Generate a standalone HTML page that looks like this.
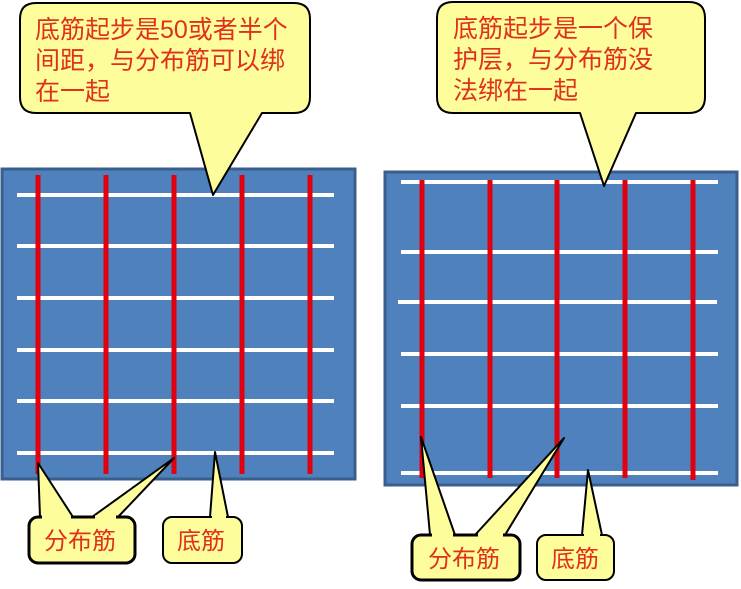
<!DOCTYPE html>
<html><head><meta charset="utf-8"><style>
html,body{margin:0;padding:0;background:#fff;}
svg{display:block;}
text{font-family:"Liberation Sans","Noto Sans CJK SC",sans-serif;fill:#e0301e;font-size:24px;}
.b{font-size:25px;}
</style></head><body>
<svg width="741" height="589" viewBox="0 0 741 589" xmlns="http://www.w3.org/2000/svg">
<rect x="2" y="169" width="353" height="310" fill="#4f81bd" stroke="#3b5f8c" stroke-width="3"/>
<g stroke="#fff" stroke-width="4">
<line x1="17" y1="195" x2="334" y2="195"/><line x1="17" y1="246" x2="334" y2="246"/>
<line x1="17" y1="298" x2="334" y2="298"/><line x1="17" y1="350" x2="334" y2="350"/>
<line x1="17" y1="401" x2="334" y2="401"/><line x1="17" y1="453" x2="334" y2="453"/>
</g>
<g stroke="#e00010" stroke-width="5">
<line x1="38" y1="175" x2="38" y2="474"/><line x1="106" y1="175" x2="106" y2="474"/>
<line x1="174" y1="175" x2="174" y2="474"/><line x1="242" y1="175" x2="242" y2="474"/>
<line x1="310" y1="175" x2="310" y2="474"/>
</g>
<rect x="385" y="172" width="352" height="313" fill="#4f81bd" stroke="#3b5f8c" stroke-width="3"/>
<g stroke="#fff" stroke-width="4">
<line x1="401" y1="182" x2="718" y2="182"/><line x1="401" y1="252" x2="718" y2="252"/>
<line x1="398" y1="302" x2="717" y2="302"/><line x1="401" y1="354" x2="718" y2="354"/>
<line x1="401" y1="406" x2="718" y2="406"/><line x1="401" y1="473" x2="718" y2="473"/>
</g>
<g stroke="#e00010" stroke-width="5">
<line x1="422" y1="180" x2="422" y2="478"/><line x1="490" y1="180" x2="490" y2="478"/>
<line x1="557" y1="180" x2="557" y2="478"/><line x1="625" y1="180" x2="625" y2="478"/>
<line x1="693" y1="180" x2="693" y2="480"/>
</g>
<g fill="#fdfd9c" stroke="#000" stroke-width="2" stroke-linejoin="round">
<path d="M36 3 H294 Q310 3 310 19 V97 Q310 113 294 113 H262 L213 195 L190 113 H36 Q20 113 20 97 V19 Q20 3 36 3 Z"/>
<path d="M453 2 H689 Q705 2 705 18 V97 Q705 113 689 113 H636 L604 186 L580 113 H453 Q437 113 437 97 V18 Q437 2 453 2 Z"/>
<path d="M40 517 L38 463 L73 517 Z"/>
<path d="M92 517 L174 458 L118 517 Z"/>
<rect x="29" y="517" width="106" height="46" rx="9" stroke-width="3"/>
<path d="M210 517 L215 452 L228 517 Z"/>
<rect x="163" y="517" width="79" height="46" rx="9"/>
<path d="M430 535 L421 437 L455 535 Z"/>
<path d="M475 535 L564 438 L505 535 Z"/>
<rect x="412" y="535" width="108" height="45" rx="9" stroke-width="3"/>
<path d="M582 535 L588 470 L602 535 Z"/>
<rect x="537" y="535" width="77" height="45" rx="9"/>
</g>
<g stroke="#fdfd9c" stroke-width="3">
<line x1="192" y1="112" x2="260" y2="112"/>
<line x1="582" y1="112" x2="634" y2="112"/>
<line x1="42" y1="517" x2="71" y2="517"/><line x1="95" y1="517" x2="116" y2="517"/>
<line x1="212" y1="517" x2="226" y2="517"/>
<line x1="432" y1="535" x2="453" y2="535"/><line x1="478" y1="535" x2="503" y2="535"/>
<line x1="584" y1="535" x2="600" y2="535"/>
</g>
<text class="b" x="35" y="38">底筋起步是50或者半个</text>
<text class="b" x="35" y="69">间距，与分布筋可以绑</text>
<text class="b" x="35" y="100">在一起</text>
<text class="b" x="453" y="37">底筋起步是一个保</text>
<text class="b" x="453" y="68">护层，与分布筋没</text>
<text class="b" x="453" y="99">法绑在一起</text>
<text x="44" y="549">分布筋</text>
<text x="177" y="549">底筋</text>
<text x="428" y="567">分布筋</text>
<text x="551" y="567">底筋</text>
</svg>
</body></html>
